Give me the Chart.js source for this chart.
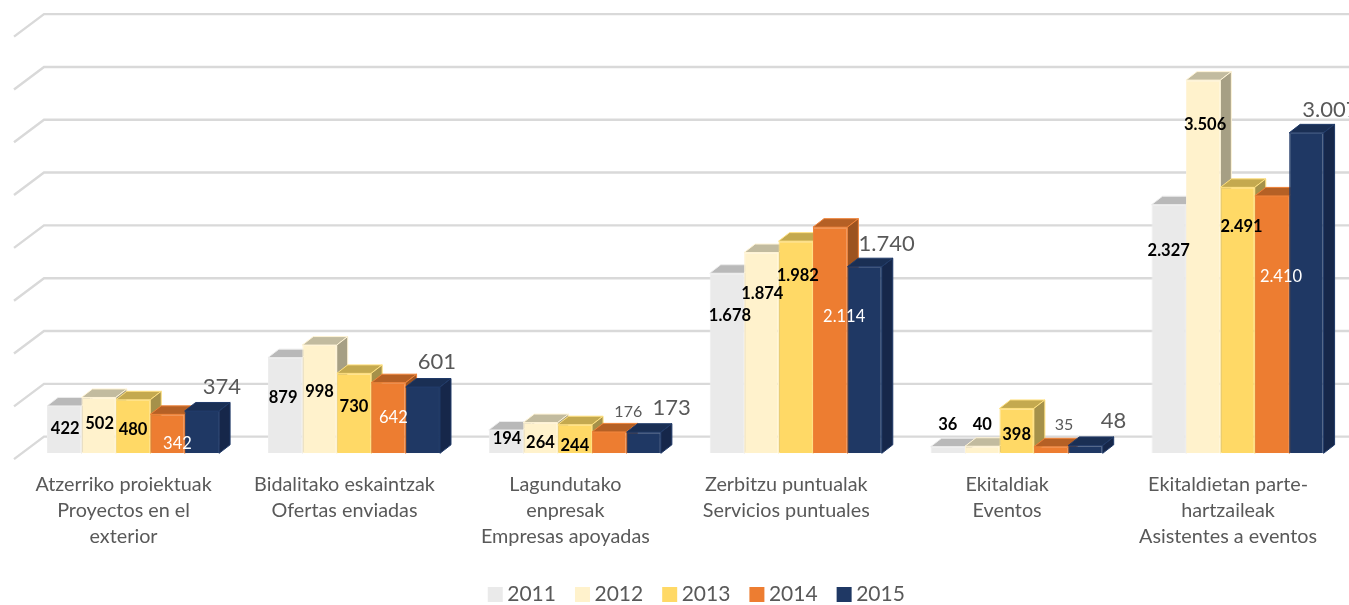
<!DOCTYPE html>
<html>
<head>
<meta charset="utf-8">
<style>html,body{margin:0;padding:0;background:#fff;overflow:hidden}canvas{display:block}</style>
<script src="https://cdn.jsdelivr.net/npm/chart.js@4"></script>
</head>
<body>
<canvas id="c" width="1349" height="605"></canvas>
<script>
const categories = [
  ["Atzerriko proiektuak","Proyectos en el","exterior"],
  ["Bidalitako eskaintzak","Ofertas enviadas"],
  ["Lagundutako","enpresak","Empresas apoyadas"],
  ["Zerbitzu puntualak","Servicios puntuales"],
  ["Ekitaldiak","Eventos"],
  ["Ekitaldietan parte-","hartzaileak","Asistentes a eventos"]
];
const years = ["2011","2012","2013","2014","2015"];
const v2011 = [422,879,194,1678,36,2327];
const v2012 = [502,998,264,1874,40,3506];
const v2013 = [480,730,244,1982,398,2491];
const v2014 = [342,642,176,2114,35,2410];
const v2015 = [374,601,173,1740,48,3007];
const gridValues = [0,500,1000,1500,2000,2500,3000,3500,4000];

const frontColors = ["#EAEAEA","#FFF2CC","#FFD966","#ED7D31","#1F3864"];
const edgeColors  = ["#EDEDED","#FFF4D6","#FFE07F","#EF8238","#203A68"];
const topColors   = ["#B9B9B9","#C2BB9F","#C4A94F","#B56025","#1A2F54"];
const sideColors  = ["#A8A8A8","#A69F84","#A5914A","#9C5320","#16274A"];
const depthX = 11, depthY = 8.5;
const floorValue = -26.6;

/* label nudges from each bar's top-centre, per series then category */
const nudges = [
  [[1,23],[-2,40],[1,8.5],[3,42.5],[0,-22],[0,46]],
  [[1,26.5],[0,47],[0,20.5],[1,41.5],[0,-21.5],[2,45]],
  [[0,29.5],[0,33],[0,20.5],[2,35],[0,26.5],[4,39]],
  [[10,29.5],[5,35],[19,-20.5],[14,89],[13,-21.5],[9,81]],
  [[20,-24.5],[14,-25],[28,-24.5],[22,-22.5],[28,-24.5],[24,-22.5]]
];
const fmt = n => String(n).replace(/\B(?=(\d{3})+$)/g, ".");

const legendShift = {
  id:"legendShift",
  afterLayout(chart){
    const l = chart.legend;
    l.left += 14; l.right += 14;
    l.top += 10; l.bottom += 10;
  }
};
const walls = {
  id:"walls",
  beforeDatasetsDraw(chart){
    const g = chart.scales.yGrid, ctx = chart.ctx;
    ctx.save();
    ctx.strokeStyle = "#D9D9D9"; ctx.lineWidth = 2.4;
    gridValues.forEach(v=>{
      const y = g.getPixelForValue(v);
      ctx.beginPath();
      ctx.moveTo(14, y+22.5); ctx.lineTo(44, y); ctx.lineTo(1349, y);
      ctx.stroke();
    });
    /* 3D tops and sides sit under the front faces drawn by the library */
    chart.data.datasets.forEach((ds,i)=>{
      chart.getDatasetMeta(i).data.forEach(b=>{
        const p = b.getProps(["x","y","base","width"], true);
        const l = p.x-p.width/2, r = p.x+p.width/2;
        ctx.fillStyle = topColors[i];
        ctx.strokeStyle = edgeColors[i]; ctx.lineWidth = 1;
        ctx.beginPath();
        ctx.moveTo(l,p.y); ctx.lineTo(l+depthX,p.y-depthY); ctx.lineTo(r+depthX,p.y-depthY); ctx.lineTo(r,p.y);
        ctx.closePath(); ctx.fill(); ctx.stroke();
        ctx.fillStyle = sideColors[i];
        ctx.beginPath();
        ctx.moveTo(r,p.y); ctx.lineTo(r+depthX,p.y-depthY); ctx.lineTo(r+depthX,p.base-depthY); ctx.lineTo(r,p.base);
        ctx.closePath(); ctx.fill(); ctx.stroke();
      });
    });
    ctx.restore();
  }
};
const valueLabels = {
  id:"valueLabels",
  afterDatasetsDraw(chart){
    const ctx = chart.ctx;
    ctx.save();
    ctx.textAlign = "center"; ctx.textBaseline = "middle";
    chart.data.datasets.forEach((ds,i)=>{
      chart.getDatasetMeta(i).data.forEach((b,k)=>{
        const p = b.getProps(["x","y"], true), n = nudges[i][k];
        let font = "bold 16.5px Lato", color = "#000";
        if(i===3){
          const above = n[1]<0;
          font = above ? "16px Lato" : "16.5px Lato";
          color = above ? "#595959" : "#FFFFFF";
        }
        if(i===4){ font = "22px Lato"; color = "#595959"; }
        ctx.font = font; ctx.fillStyle = color;
        ctx.fillText(fmt(ds.data[k]), p.x+n[0], p.y+n[1]);
      });
    });
    ctx.restore();
  }
};

const allSeries = [v2011,v2012,v2013,v2014,v2015];
new Chart(document.getElementById("c"),{
  type:"bar",
  data:{
    labels:categories,
    datasets:allSeries.map((d,i)=>({
      label:years[i], data:d, yAxisID:"y", xAxisID:"x", base:floorValue,
      backgroundColor:frontColors[i], borderColor:edgeColors[i], borderWidth:1,
      categoryPercentage:0.779, barPercentage:1
    }))
  },
  options:{
    responsive:false, animation:false,
    layout:{padding:{top:10,left:22.6,right:1,bottom:0}},
    plugins:{
      tooltip:{enabled:false},
      legend:{
        position:"bottom",
        labels:{
          usePointStyle:true, pointStyle:"rect", boxWidth:3, boxHeight:15,
          padding:25, color:"#595959", font:{family:"Lato",size:21},
          generateLabels(chart){
            return chart.data.datasets.map((d,i)=>({text:d.label,fillStyle:frontColors[i],strokeStyle:frontColors[i],lineWidth:0,pointStyle:"rect",datasetIndex:i,fontColor:"#595959"}));
          }
        }
      }
    },
    scales:{
      x:{
        grid:{display:false}, border:{display:false},
        ticks:{color:"#595959",font:{family:"Lato",size:19.8,lineHeight:1.31},padding:10,labelOffset:-9.5,maxRotation:0,minRotation:0,autoSkip:false},
        afterFit(s){ s.height = 95.7; }
      },
      y:{display:false,min:floorValue,max:4170},
      yGrid:{display:false,min:-157.5,max:4039}
    }
  },
  plugins:[legendShift,walls,valueLabels]
});
</script>
</body>
</html>
